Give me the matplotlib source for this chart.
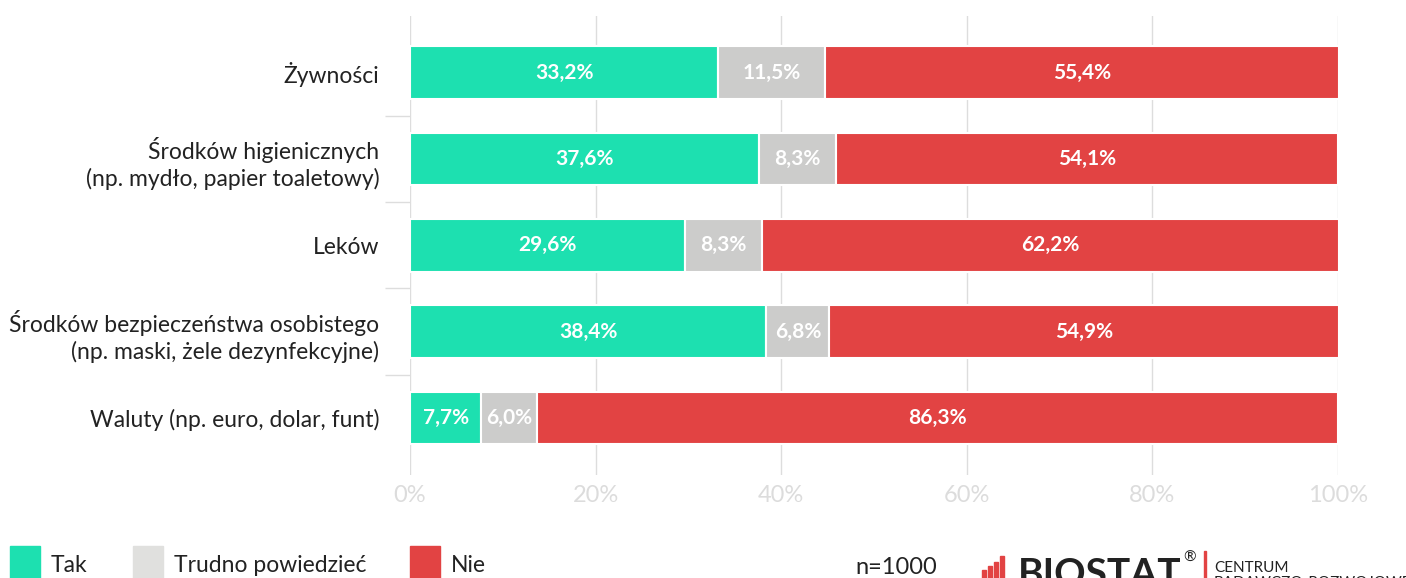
import numpy as np
import matplotlib.pyplot as plt
from matplotlib.patches import Rectangle

plt.rcParams['font.family'] = ['Lato', 'DejaVu Sans']

categories = ['Żywności',
              'Środków higienicznych\n(np. mydło, papier toaletowy)',
              'Leków',
              'Środków bezpieczeństwa osobistego\n(np. maski, żele dezynfekcyjne)',
              'Waluty (np. euro, dolar, funt)']
tak = [33.2, 37.6, 29.6, 38.4, 7.7]
trudno = [11.5, 8.3, 8.3, 6.8, 6.0]
nie = [55.4, 54.1, 62.2, 54.9, 86.3]
series_names = ['Tak', 'Trudno powiedzieć', 'Nie']
colors = ['#1de0b0', '#cccccb', '#e24343']
legend_colors = ['#1de0b0', '#e0e0de', '#e24343']
xticks = [0, 20, 40, 60, 80, 100]

fig = plt.figure(figsize=(14.06, 5.78), dpi=100)
ax = fig.add_axes([410/1406, 1 - 475/578, 928/1406, 459/578])

y = np.arange(len(categories))
left = np.zeros(len(categories))
for vals, col in zip([tak, trudno, nie], colors):
    vals = np.array(vals)
    ax.barh(y, vals, left=left, height=0.61, color=col, edgecolor='white', linewidth=1.5)
    for yi, l, v in zip(y, left, vals):
        ax.text(l + v/2, yi, f'{v:.1f}%'.replace('.', ','), ha='center', va='center',
                color='white', fontsize=15, fontweight='bold')
    left += vals

ax.set_xlim(0, 100)
ax.set_ylim(4.66, -0.655)
ax.set_xticks(xticks)
ax.set_xticklabels([f'{t}%' for t in xticks])
ax.set_yticks(y)
ax.set_yticklabels(categories, fontsize=16.5, color='#222222', linespacing=1.3)
ax.set_yticks(y[:-1] + 0.5, minor=True)
ax.tick_params(axis='y', which='major', length=0, pad=22)
ax.tick_params(axis='y', which='minor', length=18, color='#dddddd', width=1)
ax.tick_params(axis='x', length=0, labelsize=17, labelcolor='#dcdcdc', pad=7)
ax.grid(axis='x', color='#dddddd', linewidth=1)
ax.set_axisbelow(True)
for s in ax.spines.values():
    s.set_visible(False)

# legend at bottom
legend_x = [10, 133, 410]
for x0, name, col in zip(legend_x, series_names, legend_colors):
    fig.patches.append(Rectangle((x0/1406, 0), 30/1406, 32/578, transform=fig.transFigure,
                                 color=col, zorder=3))
    fig.text((x0 + 41)/1406, 13/578, name, fontsize=16.5, color='#222222', va='center')

fig.text(855/1406, 0/578, 'n=1000', fontsize=17, color='#222222', va='bottom')
# logo
bar_h = [8, 12, 16, 22]
for i, h in enumerate(bar_h):
    fig.patches.append(Rectangle(((982 + i*6)/1406, 0), 4/1406, h/578,
                                 transform=fig.transFigure, color='#e24343'))
fig.text(1018/1406, -14/578, 'BIOSTAT', fontsize=28, fontweight='bold', color='#222222', va='bottom')
fig.text(1183/1406, 1 - 551/578, '®', fontsize=11, color='#222222', va='top')
fig.patches.append(Rectangle((1204/1406, 0), 2/1406, 27/578, transform=fig.transFigure,
                             color='#e24343'))
fig.text(1214/1406, 3/578, 'CENTRUM', fontsize=11, color='#222222', va='bottom')
fig.text(1214/1406, -12/578, 'BADAWCZO-ROZWOJOWE', fontsize=11, color='#222222', va='bottom')

fig.savefig('out.png', dpi=100)
